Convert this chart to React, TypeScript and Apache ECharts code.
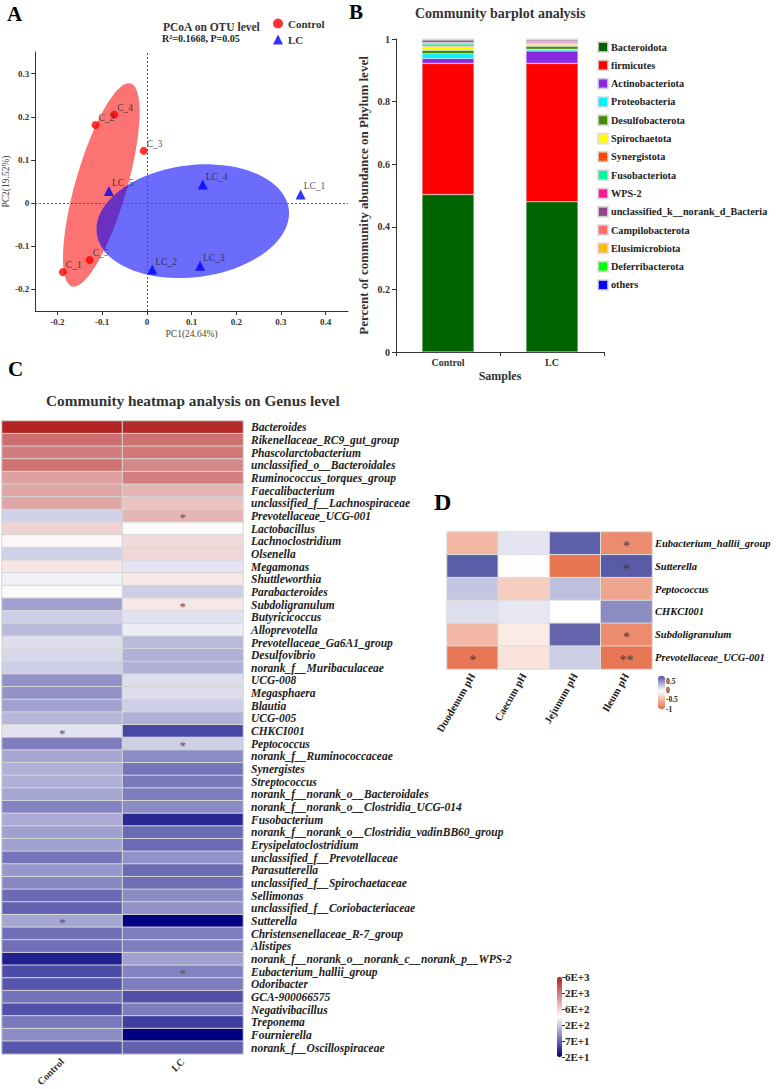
import React, { useEffect, useRef } from 'react';
import * as echarts from 'echarts';

const FONT = "'Liberation Serif', 'Times New Roman', serif";

// ---------- Panel A: PCoA ----------
const controlNames = ['C_1', 'C_2', 'C_3', 'C_4', 'C_5'];
const controlPC1 = [-0.188, -0.115, -0.007, -0.073, -0.128];
const controlPC2 = [-0.160, 0.181, 0.121, 0.205, -0.132];
const lcNames = ['LC_1', 'LC_2', 'LC_3', 'LC_4', 'LC_5'];
const lcPC1 = [0.344, 0.012, 0.119, 0.125, -0.085];
const lcPC2 = [0.020, -0.154, -0.145, 0.043, 0.028];
// confidence ellipses: [centerX, centerY, axis1X, axis1Y, axis2X, axis2Y] in data units
const controlEllipse = [-0.102, 0.042, 0.0658, 0.235, 0.055, -0.0174];
const lcEllipse = [0.1026, -0.042, 0.215, 0.0272, 0.0145, -0.129];

// ---------- Panel B: phylum barplot ----------
const samples = ['Control', 'LC'];
const phyla = ['Bacteroidota', 'firmicutes', 'Actinobacteriota', 'Proteobacteria', 'Desulfobacterota', 'Spirochaetota', 'Synergistota', 'Fusobacteriota', 'WPS-2', 'unclassified_k__norank_d_Bacteria', 'Campilobacterota', 'Elusimicrobiota', 'Deferribacterota', 'others'];
const phylumControl = [0.503, 0.419, 0.016, 0.015, 0.011, 0.012, 0.005, 0.006, 0.002, 0.008, 0.001, 0.001, 0.0005, 0.0005];
const phylumLC = [0.480, 0.442, 0.040, 0.005, 0.010, 0.006, 0.003, 0.002, 0.004, 0.005, 0.001, 0.001, 0.0005, 0.0005];
const phylumColors = ['#006400', '#ff0000', '#8a2be2', '#00f5ff', '#458b00', '#ffff00', '#ff4500', '#00fa9a', '#ff1493', '#8b4789', '#ff6a6a', '#ffb90f', '#00ff00', '#0000ff'];

// ---------- Panel C: genus heatmap ----------
const genera = ['Bacteroides', 'Rikenellaceae_RC9_gut_group', 'Phascolarctobacterium', 'unclassified_o__Bacteroidales', 'Ruminococcus_torques_group', 'Faecalibacterium', 'unclassified_f__Lachnospiraceae', 'Prevotellaceae_UCG-001', 'Lactobacillus', 'Lachnoclostridium', 'Olsenella', 'Megamonas', 'Shuttleworthia', 'Parabacteroides', 'Subdoligranulum', 'Butyricicoccus', 'Alloprevotella', 'Prevotellaceae_Ga6A1_group', 'Desulfovibrio', 'norank_f__Muribaculaceae', 'UCG-008', 'Megasphaera', 'Blautia', 'UCG-005', 'CHKCI001', 'Peptococcus', 'norank_f__Ruminococcaceae', 'Synergistes', 'Streptococcus', 'norank_f__norank_o__Bacteroidales', 'norank_f__norank_o__Clostridia_UCG-014', 'Fusobacterium', 'norank_f__norank_o__Clostridia_vadinBB60_group', 'Erysipelatoclostridium', 'unclassified_f__Prevotellaceae', 'Parasutterella', 'unclassified_f__Spirochaetaceae', 'Sellimonas', 'unclassified_f__Coriobacteriaceae', 'Sutterella', 'Christensenellaceae_R-7_group', 'Alistipes', 'norank_f__norank_o__norank_c__norank_p__WPS-2', 'Eubacterium_hallii_group', 'Odoribacter', 'GCA-900066575', 'Negativibacillus', 'Treponema', 'Fournierella', 'norank_f__Oscillospiraceae'];
const genusControl = [6200, 2400, 1950, 2250, 1250, 1150, 1150, 217, 650, 400, 217, 510, 310, 390, 127, 210, 168, 248, 234, 210, 107, 107, 127, 160, 263, 86, 135, 150, 150, 135, 91, 142, 127, 127, 77, 114, 96, 69, 62, 135, 73, 73, 30, 49, 55, 77, 52, 81, 100, 55];
const genusLC = [5600, 2300, 2100, 1700, 1900, 960, 800, 960, 390, 580, 610, 270, 475, 210, 490, 263, 296, 168, 150, 150, 248, 248, 210, 150, 47, 210, 100, 77, 81, 86, 100, 33, 69, 69, 107, 69, 73, 100, 107, 21, 86, 86, 127, 91, 86, 52, 86, 42, 21, 62];
const sigControlGenera = ['CHKCI001', 'Sutterella'];
const sigLCGenera = ['Prevotellaceae_UCG-001', 'Subdoligranulum', 'Peptococcus', 'Eubacterium_hallii_group'];
const colorbarCLabels = ['2E+1', '7E+1', '2E+2', '6E+2', '2E+3', '6E+3'];
const colorbarCMin = 21;
const colorbarCMax = 6300;

// ---------- Panel D: correlation heatmap ----------
const dGenera = ['Eubacterium_hallii_group', 'Sutterella', 'Peptococcus', 'CHKCI001', 'Subdoligranulum', 'Prevotellaceae_UCG-001'];
const dSites = ['Duodenum pH', 'Caecum pH', 'Jejunum pH', 'Ileum pH'];
const dCorr = [
  [-0.49, 0.12, 0.73, -0.78],
  [0.75, -0.01, -0.93, 0.76],
  [0.27, -0.34, 0.30, -0.61],
  [0.15, 0.11, 0.0, 0.53],
  [-0.48, -0.14, 0.71, -0.78],
  [-0.92, -0.2, 0.23, -0.92],
];
const dSig = [
  ['', '', '', '*'],
  ['', '', '', '*'],
  ['', '', '', ''],
  ['', '', '', ''],
  ['', '', '', '*'],
  ['*', '', '', '**'],
];

const txt = (size: number, extra: any = {}) => ({ fontFamily: FONT, fontWeight: 'bold', fontSize: size, color: '#333', ...extra });

function mix(a: number[], b: number[], t: number) {
  return 'rgb(' + a.map((v, i) => Math.round(v + (b[i] - v) * t)).join(',') + ')';
}

function ellipseSeries(name: string, params: number[], fill: string) {
  return {
    type: 'custom',
    name,
    xAxisIndex: 0,
    yAxisIndex: 0,
    z: 1,
    silent: true,
    data: [params],
    encode: { x: 0, y: 1 },
    renderItem: (_p: any, api: any) => {
      const cx = api.value(0), cy = api.value(1);
      const ux = api.value(2), uy = api.value(3);
      const vx = api.value(4), vy = api.value(5);
      const pts: number[][] = [];
      for (let i = 0; i < 90; i++) {
        const a = (i / 90) * Math.PI * 2;
        pts.push(api.coord([cx + ux * Math.cos(a) + vx * Math.sin(a), cy + uy * Math.cos(a) + vy * Math.sin(a)]));
      }
      return { type: 'polygon', shape: { points: pts }, style: { fill } };
    },
  };
}

function buildOption() {
  const orange = [230, 108, 70];
  const white = [255, 255, 255];
  const blue = [80, 82, 162];
  const dStops: string[] = [];
  for (let i = 0; i < 10; i++) {
    const v = -1 + i * 0.2;
    dStops.push(v < 0 ? mix(orange, white, v + 1) : mix(white, blue, v / 0.8));
  }

  const heatC: any[] = [];
  genera.forEach((g, i) => {
    [genusControl[i], genusLC[i]].forEach((v, j) => {
      const sig = (j === 0 ? sigControlGenera : sigLCGenera).includes(g);
      heatC.push({ value: [j, i, Math.log10(v)], label: sig ? { show: true, formatter: '*' } : { show: false } });
    });
  });
  const heatD: any[] = [];
  dGenera.forEach((_g, i) => {
    dSites.forEach((_s, j) => {
      const s = dSig[i][j];
      heatD.push({ value: [j, i, dCorr[i][j]], label: s ? { show: true, formatter: s } : { show: false } });
    });
  });

  const axisLineDark = { show: true, onZero: false, lineStyle: { color: '#333', width: 1 } };

  const barSeries = phyla.map((p, k) => ({
    type: 'bar',
    name: p,
    stack: 'total',
    xAxisIndex: 1,
    yAxisIndex: 1,
    barWidth: 52,
    data: [phylumControl[k], phylumLC[k]],
    itemStyle: { color: phylumColors[k], borderColor: 'rgba(220,220,220,0.8)', borderWidth: 0.5 },
  }));

  return {
    animation: false,
    backgroundColor: '#ffffff',
    graphic: [
      { type: 'text', left: 7, top: 3, style: { text: 'A', font: `bold 21px ${FONT}`, fill: '#000' } },
      { type: 'text', left: 349, top: 1, style: { text: 'B', font: `bold 21px ${FONT}`, fill: '#000' } },
      { type: 'text', left: 8, top: 358, style: { text: 'C', font: `bold 21px ${FONT}`, fill: '#000' } },
      { type: 'text', left: 434, top: 490, style: { text: 'D', font: `bold 24px ${FONT}`, fill: '#000' } },
      { type: 'text', left: 163, top: 21, style: { text: 'PCoA on OTU level', font: `bold 11.5px ${FONT}`, fill: '#333' } },
      { type: 'text', left: 162, top: 33, style: { text: 'R²=0.1668, P=0.05', font: `bold 10px ${FONT}`, fill: '#222' } },
      { type: 'text', left: 415, top: 6, style: { text: 'Community barplot analysis', font: `bold 14px ${FONT}`, fill: '#333' } },
      { type: 'text', left: 46, top: 393, style: { text: 'Community heatmap analysis on Genus level', font: `bold 15.3px ${FONT}`, fill: '#333' } },
    ],
    legend: [
      {
        data: ['Control', 'LC'], left: 273, top: 18, orient: 'vertical', padding: 0,
        itemWidth: 10, itemHeight: 10, itemGap: 5, textStyle: txt(11), selectedMode: false,
      },
      {
        data: phyla, left: 597, top: 41, orient: 'vertical', padding: 0, icon: 'rect',
        itemWidth: 10, itemHeight: 10, itemGap: 6.3, textStyle: txt(10.2, { color: '#222', padding: [0, 0, 0, -2] }), selectedMode: false,
      },
    ],
    grid: [
      { left: 30, top: 52, width: 318, height: 259 },
      { left: 396, top: 39, width: 208, height: 313 },
      { left: 2, top: 421, width: 241, height: 638 },
      { left: 447, top: 532, width: 205, height: 137 },
      { left: 557, top: 977, width: 5, height: 80 },
      { left: 658, top: 676, width: 7, height: 33 },
    ],
    xAxis: [
      {
        gridIndex: 0, type: 'value', min: -0.25, max: 0.45,
        name: 'PC1(24.64%)', nameLocation: 'middle', nameGap: 18,
        nameTextStyle: { fontFamily: FONT, fontSize: 9.5, color: '#444' },
        axisLine: axisLineDark, axisTick: { show: true, length: 4, lineStyle: { color: '#333' } },
        axisLabel: { ...txt(9), margin: 6, showMinLabel: false, showMaxLabel: false },
        splitLine: { show: false },
      },
      {
        gridIndex: 1, type: 'category', data: samples,
        name: 'Samples', nameLocation: 'middle', nameGap: 18, nameTextStyle: txt(12),
        axisLine: axisLineDark, axisTick: { show: true, length: 4, lineStyle: { color: '#333' } },
        axisLabel: { ...txt(10), margin: 5 },
      },
      {
        gridIndex: 2, type: 'category', data: samples, position: 'bottom',
        axisLine: { show: false }, axisTick: { show: false },
        axisLabel: { ...txt(10), rotate: 45, margin: 6 },
      },
      {
        gridIndex: 3, type: 'category', data: dSites, position: 'bottom',
        axisLine: { show: false }, axisTick: { show: false },
        axisLabel: { ...txt(10.5, { color: '#222' }), rotate: 60, margin: 5 },
      },
      { gridIndex: 4, type: 'category', data: [''], show: false },
      { gridIndex: 5, type: 'category', data: [''], show: false },
    ],
    yAxis: [
      {
        gridIndex: 0, type: 'value', min: -0.25, max: 0.35,
        name: 'PC2(19.52%)', nameLocation: 'middle', nameGap: 18, nameRotate: 90,
        nameTextStyle: { fontFamily: FONT, fontSize: 9.5, color: '#444' },
        axisLine: axisLineDark, axisTick: { show: true, length: 4, lineStyle: { color: '#333' } },
        axisLabel: { ...txt(9), margin: 6, showMinLabel: false, showMaxLabel: false },
        splitLine: { show: false },
      },
      {
        gridIndex: 1, type: 'value', min: 0, max: 1, interval: 0.2,
        name: 'Percent of community abundance on Phylum level', nameLocation: 'middle', nameGap: 26,
        nameTextStyle: txt(13),
        axisLine: axisLineDark, axisTick: { show: true, length: 4, lineStyle: { color: '#333' } },
        axisLabel: { ...txt(10), margin: 6 },
        splitLine: { show: false },
      },
      {
        gridIndex: 2, type: 'category', data: genera, inverse: true, position: 'right',
        axisLine: { show: false }, axisTick: { show: false },
        axisLabel: { ...txt(11.5, { color: '#222' }), fontStyle: 'italic', margin: 8, interval: 0 },
      },
      {
        gridIndex: 3, type: 'category', data: dGenera, inverse: true, position: 'right',
        axisLine: { show: false }, axisTick: { show: false },
        axisLabel: { ...txt(10.5, { color: '#111' }), fontStyle: 'italic', margin: 3, interval: 0 },
      },
      {
        gridIndex: 4, type: 'category', data: colorbarCLabels, boundaryGap: false, position: 'right',
        axisLine: { show: false }, axisTick: { show: true, length: 3, lineStyle: { color: '#333' } },
        axisLabel: { ...txt(11, { color: '#222' }), margin: 3, interval: 0 },
      },
      {
        gridIndex: 5, type: 'value', min: -1, max: 0.8, interval: 0.5, position: 'right',
        axisLine: { show: false }, axisTick: { show: false }, splitLine: { show: false },
        axisLabel: { ...txt(7.5, { color: '#222' }), margin: 1, showMaxLabel: false },
      },
    ],
    visualMap: [
      {
        type: 'continuous', seriesIndex: 4 + phyla.length,
        min: Math.log10(colorbarCMin), max: Math.log10(colorbarCMax),
        inRange: { color: ['#000080', '#ffffff', '#b22222'] },
        calculable: false, orient: 'vertical', left: 557, top: 977,
        itemWidth: 5, itemHeight: 80, padding: 0, hoverLink: false, show: true,
      },
      {
        type: 'continuous', seriesIndex: 5 + phyla.length,
        min: -1, max: 0.8, inRange: { color: dStops },
        calculable: false, orient: 'vertical', left: 658, top: 676,
        itemWidth: 7, itemHeight: 33, padding: 0, hoverLink: false, show: true,
      },
    ],
    series: [
      ellipseSeries('Control ellipse', controlEllipse, 'rgba(250,0,0,0.55)'),
      ellipseSeries('LC ellipse', lcEllipse, 'rgba(0,0,250,0.58)'),
      {
        type: 'scatter', name: 'Control', xAxisIndex: 0, yAxisIndex: 0, z: 3,
        symbol: 'circle', symbolSize: 8, itemStyle: { color: '#ff0000' },
        data: controlNames.map((n, i) => ({ name: n, value: [controlPC1[i], controlPC2[i]] })),
        label: { show: true, formatter: '{b}', position: [7, -8], fontFamily: FONT, fontSize: 9.5, color: '#222' },
        markLine: {
          silent: true, symbol: 'none', label: { show: false },
          lineStyle: { type: [2, 2], color: '#555', width: 1 },
          data: [{ xAxis: 0 }, { yAxis: 0 }],
        },
      },
      {
        type: 'scatter', name: 'LC', xAxisIndex: 0, yAxisIndex: 0, z: 3,
        symbol: 'triangle', symbolSize: 10, itemStyle: { color: '#0000ff' },
        data: lcNames.map((n, i) => ({ name: n, value: [lcPC1[i], lcPC2[i]] })),
        label: { show: true, formatter: '{b}', position: [8, -8], fontFamily: FONT, fontSize: 9.5, color: '#222' },
      },
      ...barSeries,
      {
        type: 'heatmap', name: 'genus', xAxisIndex: 2, yAxisIndex: 2, data: heatC,
        itemStyle: { borderColor: '#d6d6d6', borderWidth: 1 },
        label: { show: false, color: '#555', fontSize: 13, fontFamily: FONT, offset: [0, 2] },
        emphasis: { disabled: true },
      },
      {
        type: 'heatmap', name: 'corr', xAxisIndex: 3, yAxisIndex: 3, data: heatD,
        itemStyle: { borderColor: '#dddddd', borderWidth: 1 },
        label: { show: false, color: '#4a3030', fontSize: 14, fontFamily: FONT, offset: [0, 3] },
        emphasis: { disabled: true },
      },
    ],
  };
}

export default function App() {
  const ref = useRef<HTMLDivElement>(null);
  useEffect(() => {
    const chart = echarts.init(ref.current!, undefined, { renderer: 'svg' });
    chart.setOption(buildOption() as any);
    return () => chart.dispose();
  }, []);
  return <div ref={ref} style={{ position: 'absolute', left: 0, top: 0, width: 777, height: 1089 }} />;
}
